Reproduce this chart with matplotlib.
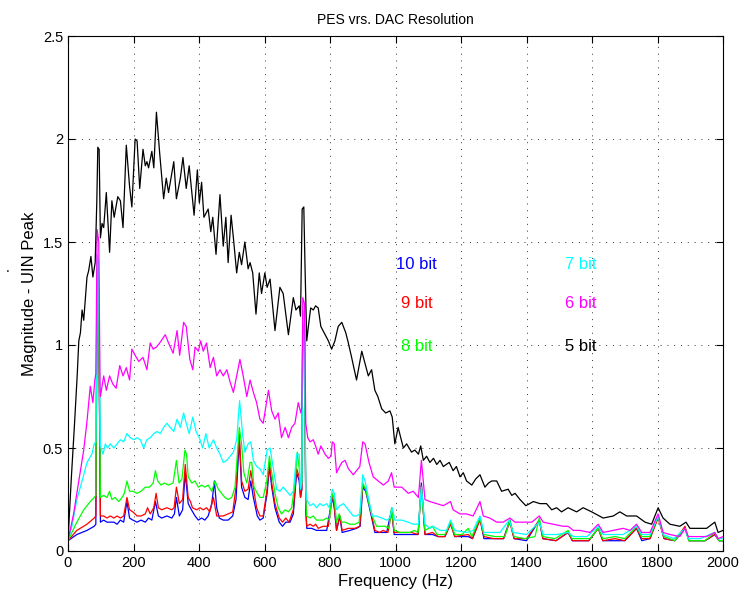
import matplotlib
matplotlib.use("Agg")
import matplotlib.pyplot as plt

plt.rcParams['font.family'] = ['Liberation Sans', 'DejaVu Sans']

# PES spectra for each DAC resolution: (frequency Hz, magnitude)
bit10_f = [0, 27, 58, 80, 85, 89, 93, 99, 109, 119, 129, 140, 150, 160, 170, 180, 188, 198, 211, 223,
           236, 246, 256, 267, 276, 286, 302, 317, 325, 331, 340, 350, 358, 367, 377, 388, 398, 408, 418,
           428, 439, 447, 454, 462, 474, 489, 503, 513, 523, 530, 540, 550, 558, 566, 578, 586, 596, 608,
           615, 622, 632, 645, 655, 665, 678, 688, 698, 706, 710, 714, 717, 722, 726, 729, 744, 759, 774,
           790, 807, 813, 820, 830, 837, 861, 881, 892, 900, 909, 922, 937, 952, 973, 988, 996, 1019, 1039,
           1057, 1069, 1079, 1090, 1113, 1130, 1151, 1168, 1181, 1222, 1235, 1258, 1270, 1300, 1330, 1349,
           1362, 1400, 1439, 1450, 1490, 1527, 1540, 1590, 1619, 1633, 1670, 1700, 1736, 1752, 1777, 1802,
           1820, 1853, 1884, 1896, 1945, 1975, 1988, 2000]
bit10_v = [0.05, 0.08, 0.10, 0.12, 0.13, 1.34, 1.30, 0.14, 0.15, 0.14, 0.14, 0.14, 0.13, 0.15, 0.14, 0.24, 0.16, 0.15, 0.14, 0.15,
           0.14, 0.16, 0.15, 0.24, 0.17, 0.16, 0.17, 0.16, 0.18, 0.26, 0.17, 0.20, 0.38, 0.23, 0.20, 0.17, 0.15, 0.16, 0.15,
           0.17, 0.23, 0.34, 0.21, 0.16, 0.15, 0.15, 0.17, 0.25, 0.54, 0.31, 0.26, 0.25, 0.34, 0.26, 0.17, 0.15, 0.16, 0.28,
           0.41, 0.31, 0.21, 0.14, 0.12, 0.14, 0.14, 0.18, 0.38, 0.34, 0.26, 0.30, 1.12, 1.05, 0.20, 0.11, 0.11, 0.10, 0.10,
           0.10, 0.26, 0.21, 0.10, 0.17, 0.09, 0.10, 0.11, 0.12, 0.31, 0.29, 0.20, 0.09, 0.09, 0.09, 0.20, 0.08, 0.08, 0.08,
           0.08, 0.08, 0.33, 0.08, 0.08, 0.07, 0.07, 0.14, 0.07, 0.07, 0.06, 0.16, 0.06, 0.06, 0.06, 0.15,
           0.06, 0.05, 0.15, 0.06, 0.05, 0.09, 0.05, 0.05, 0.11, 0.05, 0.05, 0.05, 0.11, 0.05, 0.06, 0.17,
           0.06, 0.05, 0.11, 0.05, 0.05, 0.08, 0.05, 0.05]

bit9_f = [0, 27, 58, 80, 85, 89, 93, 99, 109, 119, 129, 140, 150, 160, 170, 180, 188, 198, 211, 223,
          236, 243, 251, 262, 269, 276, 286, 302, 317, 324, 331, 340, 350, 358, 367, 374, 380, 393, 403,
          413, 423, 433, 444, 454, 464, 474, 489, 503, 513, 523, 530, 540, 550, 558, 566, 576, 586, 596,
          608, 615, 622, 632, 645, 655, 665, 675, 688, 698, 706, 710, 714, 717, 722, 726, 729, 739, 749,
          756, 764, 779, 795, 807, 813, 820, 830, 837, 856, 876, 891, 900, 909, 922, 937, 952, 962, 977,
          988, 996, 1014, 1034, 1049, 1069, 1079, 1090, 1113, 1130, 1151, 1168, 1181, 1222, 1235, 1258,
          1270, 1300, 1330, 1349, 1362, 1400, 1439, 1450, 1490, 1527, 1540, 1590, 1619, 1633, 1670, 1700,
          1736, 1752, 1777, 1802, 1820, 1853, 1884, 1896, 1945, 1975, 1988, 2000]
bit9_v = [0.05, 0.10, 0.13, 0.16, 0.17, 1.36, 1.32, 0.17, 0.17, 0.16, 0.17, 0.16, 0.17, 0.16, 0.17, 0.26, 0.20, 0.19, 0.17, 0.17,
          0.18, 0.21, 0.18, 0.21, 0.28, 0.21, 0.20, 0.21, 0.20, 0.21, 0.31, 0.23, 0.25, 0.42, 0.26, 0.24, 0.21, 0.20, 0.21,
          0.20, 0.21, 0.19, 0.26, 0.17, 0.17, 0.17, 0.18, 0.19, 0.31, 0.57, 0.34, 0.29, 0.30, 0.39, 0.31, 0.21, 0.17, 0.17,
          0.30, 0.43, 0.33, 0.23, 0.16, 0.14, 0.16, 0.14, 0.20, 0.40, 0.36, 0.26, 0.30, 1.15, 1.08, 0.22, 0.12, 0.13, 0.12,
          0.13, 0.11, 0.12, 0.12, 0.27, 0.22, 0.10, 0.17, 0.10, 0.11, 0.11, 0.12, 0.32, 0.30, 0.21, 0.10, 0.09, 0.10, 0.09,
          0.19, 0.09, 0.09, 0.09, 0.09, 0.08, 0.32, 0.08, 0.09, 0.07, 0.07, 0.13, 0.07, 0.08, 0.06, 0.15,
          0.07, 0.06, 0.06, 0.14, 0.06, 0.06, 0.15, 0.06, 0.05, 0.09, 0.05, 0.05, 0.11, 0.05, 0.06, 0.05,
          0.11, 0.06, 0.06, 0.16, 0.06, 0.05, 0.12, 0.05, 0.05, 0.08, 0.05, 0.05]

bit8_f = [0, 27, 48, 68, 80, 85, 89, 93, 99, 109, 119, 127, 134, 144, 155, 165, 172, 180, 188, 198,
          211, 223, 236, 249, 260, 267, 274, 284, 294, 307, 321, 331, 339, 348, 357, 362, 367, 378, 388,
          398, 408, 418, 428, 439, 449, 459, 469, 479, 489, 500, 510, 517, 523, 530, 537, 546, 556, 561,
          568, 578, 586, 596, 607, 615, 622, 632, 642, 652, 663, 673, 683, 693, 700, 706, 710, 714, 717,
          722, 726, 729, 739, 749, 759, 769, 779, 790, 798, 807, 813, 820, 828, 836, 846, 861, 876, 889,
          900, 909, 919, 929, 942, 956, 968, 980, 988, 996, 1014, 1029, 1044, 1057, 1069, 1079, 1090, 1113,
          1127, 1151, 1168, 1181, 1203, 1222, 1233, 1258, 1270, 1304, 1334, 1349, 1362, 1395, 1426, 1439,
          1450, 1487, 1527, 1539, 1563, 1594, 1619, 1633, 1670, 1700, 1736, 1752, 1777, 1802, 1820, 1853,
          1884, 1896, 1945, 1975, 1988, 2000]
bit8_v = [0.05, 0.14, 0.20, 0.24, 0.26, 0.27, 1.38, 1.34, 0.26, 0.27, 0.26, 0.29, 0.25, 0.26, 0.24, 0.26, 0.28, 0.34, 0.29, 0.29,
          0.28, 0.29, 0.31, 0.31, 0.33, 0.39, 0.34, 0.32, 0.33, 0.32, 0.33, 0.44, 0.33, 0.35, 0.49, 0.47, 0.36, 0.33, 0.34,
          0.31, 0.32, 0.31, 0.32, 0.29, 0.34, 0.30, 0.28, 0.26, 0.25, 0.26, 0.31, 0.47, 0.60, 0.52, 0.38, 0.33, 0.43, 0.43,
          0.31, 0.28, 0.26, 0.26, 0.34, 0.46, 0.38, 0.28, 0.21, 0.18, 0.20, 0.19, 0.21, 0.33, 0.48, 0.40, 0.30, 0.33, 1.16,
          1.10, 0.25, 0.17, 0.16, 0.17, 0.15, 0.15, 0.15, 0.16, 0.15, 0.28, 0.25, 0.14, 0.18, 0.14, 0.14, 0.13, 0.13, 0.14,
          0.33, 0.30, 0.23, 0.17, 0.12, 0.12, 0.12, 0.11, 0.21, 0.10, 0.09, 0.09, 0.09, 0.10, 0.09, 0.30, 0.10, 0.12,
          0.08, 0.08, 0.14, 0.08, 0.08, 0.11, 0.07, 0.16, 0.08, 0.07, 0.07, 0.15, 0.07, 0.06, 0.07, 0.16,
          0.07, 0.06, 0.10, 0.06, 0.06, 0.06, 0.11, 0.06, 0.07, 0.06, 0.12, 0.07, 0.07, 0.17, 0.07, 0.05,
          0.11, 0.05, 0.05, 0.09, 0.05, 0.05]

bit7_f = [0, 12, 27, 43, 58, 73, 80, 85, 89, 93, 99, 107, 114, 121, 129, 140, 150, 160, 170, 180,
          190, 201, 211, 221, 231, 241, 251, 262, 272, 282, 292, 302, 312, 323, 333, 343, 353, 361, 370,
          381, 391, 401, 411, 421, 431, 444, 454, 464, 474, 485, 495, 505, 515, 524, 533, 540, 550, 558,
          566, 576, 586, 596, 608, 617, 627, 637, 647, 657, 668, 678, 688, 698, 706, 710, 714, 717, 722,
          726, 729, 739, 749, 759, 769, 779, 790, 798, 807, 813, 820, 830, 841, 851, 861, 871, 881, 891,
          900, 907, 917, 929, 942, 958, 973, 983, 990, 998, 1019, 1039, 1054, 1070, 1079, 1090, 1105, 1115,
          1136, 1156, 1168, 1181, 1217, 1237, 1258, 1270, 1298, 1319, 1347, 1359, 1400, 1439, 1451, 1492,
          1527, 1543, 1555, 1585, 1619, 1634, 1665, 1695, 1736, 1752, 1777, 1802, 1817, 1850, 1884, 1894,
          1930, 1975, 1985, 2000]
bit7_v = [0.05, 0.12, 0.25, 0.34, 0.43, 0.47, 0.52, 0.53, 1.44, 1.40, 0.51, 0.47, 0.52, 0.50, 0.52, 0.50, 0.52, 0.54, 0.53, 0.57,
          0.55, 0.54, 0.55, 0.54, 0.50, 0.54, 0.55, 0.57, 0.58, 0.57, 0.60, 0.62, 0.60, 0.58, 0.64, 0.60, 0.67, 0.62, 0.57,
          0.65, 0.58, 0.55, 0.50, 0.57, 0.50, 0.54, 0.50, 0.47, 0.43, 0.44, 0.46, 0.48, 0.54, 0.73, 0.57, 0.48, 0.52, 0.53,
          0.44, 0.41, 0.40, 0.37, 0.49, 0.50, 0.40, 0.30, 0.29, 0.31, 0.29, 0.27, 0.29, 0.47, 0.47, 0.30, 0.34, 1.17, 1.10,
          0.30, 0.25, 0.22, 0.23, 0.21, 0.23, 0.22, 0.23, 0.21, 0.30, 0.28, 0.20, 0.22, 0.23, 0.21, 0.19, 0.17, 0.17, 0.18,
          0.37, 0.34, 0.26, 0.17, 0.17, 0.16, 0.15, 0.16, 0.21, 0.15, 0.15, 0.14, 0.13, 0.13, 0.31, 0.13, 0.11, 0.12,
          0.10, 0.10, 0.15, 0.10, 0.09, 0.10, 0.17, 0.09, 0.09, 0.09, 0.15, 0.09, 0.08, 0.14, 0.08, 0.08,
          0.09, 0.07, 0.07, 0.07, 0.12, 0.08, 0.08, 0.08, 0.12, 0.08, 0.08, 0.17, 0.08, 0.06, 0.11, 0.06,
          0.06, 0.09, 0.06, 0.06]

bit6_f = [0, 17, 33, 48, 58, 68, 76, 82, 85, 89, 94, 98, 99, 109, 117, 127, 137, 147, 158, 168,
          178, 188, 195, 205, 216, 229, 241, 251, 260, 270, 280, 297, 307, 321, 333, 341, 353, 361, 372,
          381, 388, 398, 405, 413, 423, 434, 444, 454, 464, 474, 485, 495, 505, 515, 525, 535, 546, 556,
          566, 576, 586, 596, 612, 622, 632, 642, 652, 663, 673, 683, 693, 703, 711, 714, 717, 722, 726,
          732, 739, 749, 756, 764, 772, 785, 795, 803, 807, 813, 820, 836, 846, 856, 871, 881, 891, 900,
          907, 919, 932, 947, 963, 978, 988, 996, 1019, 1039, 1054, 1070, 1079, 1090, 1105, 1126, 1146,
          1168, 1176, 1197, 1217, 1237, 1258, 1268, 1288, 1309, 1329, 1349, 1365, 1390, 1416, 1439, 1451,
          1482, 1512, 1527, 1543, 1563, 1594, 1619, 1634, 1665, 1695, 1716, 1736, 1752, 1777, 1802, 1817,
          1838, 1868, 1884, 1894, 1919, 1950, 1975, 1985, 2000]
bit6_v = [0.05, 0.18, 0.34, 0.49, 0.63, 0.80, 0.72, 0.83, 0.86, 1.56, 1.50, 0.78, 0.75, 0.85, 0.78, 0.85, 0.81, 0.79, 0.90, 0.85,
          0.89, 0.83, 0.98, 0.95, 0.92, 0.94, 0.88, 1.01, 0.98, 0.99, 1.01, 1.05, 1.01, 0.96, 1.07, 0.95, 1.11, 1.09, 0.93,
          0.88, 0.99, 0.97, 1.02, 0.97, 1.01, 0.89, 0.94, 0.85, 0.88, 0.85, 0.88, 0.82, 0.77, 0.85, 0.93, 0.85, 0.75, 0.83,
          0.77, 0.72, 0.64, 0.62, 0.78, 0.68, 0.64, 0.67, 0.55, 0.60, 0.55, 0.60, 0.62, 0.72, 0.67, 0.70, 1.23, 1.20, 0.62,
          0.55, 0.53, 0.54, 0.51, 0.47, 0.51, 0.47, 0.45, 0.46, 0.53, 0.52, 0.38, 0.43, 0.44, 0.40, 0.37, 0.39, 0.41, 0.53,
          0.52, 0.43, 0.36, 0.34, 0.32, 0.34, 0.38, 0.31, 0.31, 0.28, 0.29, 0.26, 0.44, 0.25, 0.24, 0.23, 0.22,
          0.24, 0.20, 0.18, 0.18, 0.17, 0.24, 0.17, 0.16, 0.14, 0.14, 0.16, 0.14, 0.14, 0.14, 0.17, 0.14,
          0.13, 0.12, 0.12, 0.10, 0.10, 0.09, 0.13, 0.09, 0.10, 0.11, 0.10, 0.13, 0.09, 0.09, 0.18, 0.09,
          0.08, 0.07, 0.11, 0.07, 0.07, 0.07, 0.09, 0.06, 0.07]

bit5_f = [0, 10, 20, 28, 33, 38, 43, 48, 58, 63, 70, 76, 83, 88, 91, 95, 99, 104, 109, 117,
          127, 134, 141, 152, 160, 168, 178, 188, 195, 205, 211, 219, 229, 236, 241, 246, 256, 262, 270,
          280, 292, 300, 307, 323, 331, 343, 351, 361, 370, 385, 395, 401, 408, 415, 428, 436, 442, 452,
          464, 474, 482, 489, 498, 505, 515, 523, 530, 540, 550, 556, 564, 574, 584, 591, 601, 608, 617,
          632, 647, 657, 673, 688, 696, 706, 710, 715, 720, 724, 729, 734, 741, 749, 756, 764, 772, 782,
          795, 805, 815, 825, 836, 848, 856, 866, 881, 897, 907, 917, 927, 937, 946, 958, 970, 983, 990,
          998, 1008, 1024, 1034, 1049, 1059, 1070, 1077, 1085, 1095, 1105, 1116, 1126, 1136, 1146, 1164, 1176,
          1186, 1197, 1207, 1217, 1233, 1245, 1258, 1273, 1284, 1294, 1309, 1324, 1344, 1355, 1365, 1380, 1398,
          1421, 1441, 1461, 1477, 1492, 1507, 1527, 1553, 1573, 1599, 1634, 1665, 1685, 1706, 1736, 1762,
          1782, 1802, 1817, 1838, 1868, 1887, 1899, 1924, 1950, 1975, 1985, 2000]
bit5_v = [0.05, 0.35, 0.62, 0.85, 1.02, 1.06, 1.17, 1.12, 1.33, 1.36, 1.43, 1.33, 1.40, 1.70, 1.96, 1.95, 1.52, 1.59, 1.57, 1.74,
          1.45, 1.70, 1.62, 1.72, 1.70, 1.57, 1.97, 1.77, 1.67, 2.00, 1.99, 1.76, 1.95, 1.87, 1.89, 1.86, 1.94, 1.86, 2.13,
          1.93, 1.71, 1.81, 1.74, 1.89, 1.71, 1.81, 1.91, 1.76, 1.87, 1.63, 1.85, 1.69, 1.79, 1.62, 1.66, 1.55, 1.62, 1.44,
          1.73, 1.48, 1.62, 1.40, 1.63, 1.52, 1.35, 1.45, 1.39, 1.50, 1.37, 1.40, 1.35, 1.15, 1.35, 1.25, 1.35, 1.28, 1.32,
          1.07, 1.28, 1.25, 1.05, 1.23, 1.17, 1.19, 1.14, 1.66, 1.67, 1.36, 1.02, 1.09, 1.18, 1.17, 1.19, 1.18, 1.09, 1.06,
          1.02, 0.98, 1.02, 1.09, 1.11, 1.06, 1.01, 0.94, 0.83, 0.97, 0.91, 0.85, 0.88, 0.78, 0.75, 0.69, 0.67, 0.68, 0.65,
          0.52, 0.60, 0.50, 0.52, 0.48, 0.49, 0.47, 0.51, 0.44, 0.46, 0.43, 0.45, 0.42, 0.44, 0.41, 0.43, 0.39,
          0.41, 0.36, 0.38, 0.34, 0.32, 0.35, 0.37, 0.31, 0.33, 0.34, 0.34, 0.29, 0.30, 0.27, 0.28, 0.25, 0.22,
          0.24, 0.23, 0.23, 0.20, 0.21, 0.19, 0.21, 0.19, 0.21, 0.19, 0.16, 0.17, 0.19, 0.17, 0.17, 0.14,
          0.13, 0.21, 0.16, 0.13, 0.12, 0.14, 0.11, 0.11, 0.11, 0.14, 0.09, 0.10]

labels = ['10 bit', '9 bit', '8 bit', '7 bit', '6 bit', '5 bit']
colors = ['#0000ff', '#ff0000', '#00ff00', '#00ffff', '#ff00ff', '#000000']
label_x = [1065, 1065, 1065, 1565, 1565, 1565]
label_y = [1.39, 1.20, 0.995, 1.39, 1.20, 0.995]

series = [(bit10_f, bit10_v), (bit9_f, bit9_v), (bit8_f, bit8_v),
          (bit7_f, bit7_v), (bit6_f, bit6_v), (bit5_f, bit5_v)]

fig = plt.figure(figsize=(7.53, 5.99), dpi=100)
ax = fig.add_axes([68 / 753, 1 - 551 / 599, 655 / 753, 515 / 599])

for (f, v), c in zip(series, colors):
    ax.plot(f, v, color=c, lw=0.9)

for t, c, x, y in zip(labels, colors, label_x, label_y):
    ax.text(x, y, t, color=c, fontsize=12, ha='center', va='center')

ax.set_xlim(0, 2000)
ax.set_ylim(0, 2.5)
ax.set_xticks(range(0, 2001, 200))
ax.set_yticks([0, 0.5, 1, 1.5, 2, 2.5])
ax.set_yticklabels(['0', '0.5', '1', '1.5', '2', '2.5'])
ax.tick_params(direction='in', top=True, right=True, length=5, labelsize=10.5)
ax.grid(True, linestyle=(0, (1, 6)), color='#333333', lw=0.7)
for s in ax.spines.values():
    s.set_linewidth(0.8)

ax.set_title('PES vrs. DAC Resolution', fontsize=10, pad=9)
ax.set_xlabel('Frequency (Hz)', fontsize=12, labelpad=3)
ax.set_ylabel('Magnitude - UIN Peak', fontsize=12, labelpad=4)
fig.text(6 / 753, 1 - 272 / 599, '.', fontsize=10)

fig.savefig('out.png', dpi=100)
